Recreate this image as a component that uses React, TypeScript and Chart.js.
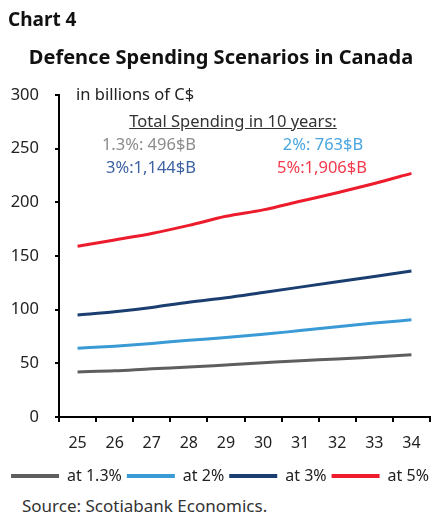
import React, { useEffect, useRef } from "react";
import { Chart, registerables } from "chart.js";

Chart.register(...registerables);

const years = ["25", "26", "27", "28", "29", "30", "31", "32", "33", "34"];
const at13 = [42, 43, 45, 46.5, 48.5, 50.5, 52.5, 54, 56, 58];
const at2 = [64, 66, 68.5, 71.5, 74, 77, 80.5, 84, 87.5, 90.5];
const at3 = [95, 98, 102, 107, 111, 116, 121, 126, 131, 136];
const at5 = [159, 165, 171, 178.5, 187, 193, 201, 209, 217.5, 227];
const seriesNames = ["at 1.3%", "at 2%", "at 3%", "at 5%"];
const lineColors = ["#5e5e5e", "#3a9ad6", "#1b3e70", "#ec1c2d"];
const yTicks = [0, 50, 100, 150, 200, 250, 300];

const FONT = "'Noto Sans', 'Open Sans', sans-serif";

export default function App() {
  const ref = useRef<HTMLCanvasElement | null>(null);

  useEffect(() => {
    if (!ref.current) return;
    const data = [at13, at2, at3, at5];
    const chart = new Chart(ref.current, {
      type: "line",
      data: {
        labels: years,
        datasets: data.map((d, i) => ({
          label: seriesNames[i],
          data: d,
          borderColor: lineColors[i],
          backgroundColor: lineColors[i],
          borderWidth: 3,
          pointRadius: 0,
          tension: 0.4,
          cubicInterpolationMode: "monotone" as const,
        })),
      },
      options: {
        animation: false,
        responsive: false,
        layout: { padding: { top: 95, right: 0, left: 0, bottom: 0 } },
        plugins: {
          tooltip: { enabled: false },
          legend: {
            position: "bottom",
            labels: {
              boxWidth: 48,
              boxHeight: 4,
              padding: 5,
              color: "#222",
              font: { family: FONT, size: 16 },
              generateLabels: (c: any) =>
                Chart.defaults.plugins.legend.labels
                  .generateLabels(c)
                  .map((l: any) => ({ ...l, lineWidth: 0 })),
            },
          },
        },
        scales: {
          x: {
            offset: true,
            grid: {
              offset: true,
              drawOnChartArea: false,
              drawTicks: true,
              tickLength: 5,
              color: "#000",
              lineWidth: 2,
            },
            border: { color: "#000", width: 2 },
            ticks: {
              color: "#222",
              font: { family: FONT, size: 16 },
              padding: 12,
              maxRotation: 0,
            },
            afterFit: (s: any) => {
              s.height = 46;
            },
          },
          y: {
            min: 0,
            max: 300,
            afterBuildTicks: (s: any) => {
              s.ticks = yTicks.map((v) => ({ value: v }));
            },
            grid: {
              drawOnChartArea: false,
              drawTicks: true,
              tickLength: 4,
              color: "#000",
              lineWidth: 2,
            },
            border: { color: "#000", width: 2 },
            ticks: {
              color: "#222",
              font: { family: FONT, size: 16.5 },
              padding: 16,
            },
            afterFit: (s: any) => {
              s.width = 59;
            },
          },
          yRight: {
            position: "right",
            display: true,
            grid: { display: false, drawTicks: false },
            border: { display: false },
            ticks: { display: false },
            afterFit: (s: any) => {
              s.width = 10;
            },
          },
        },
      },
    });
    return () => chart.destroy();
  }, []);

  const abs = (x: number, y: number, extra: React.CSSProperties = {}): React.CSSProperties => ({
    position: "absolute",
    left: x,
    top: y,
    whiteSpace: "nowrap",
    fontFamily: FONT,
    lineHeight: 1,
    ...extra,
  });

  return (
    <div style={{ position: "absolute", left: 0, top: 0, width: 440, height: 515, background: "#fff", overflow: "hidden" }}>
      <canvas ref={ref} width={440} height={494} style={{ position: "absolute", left: 0, top: 0, width: 440, height: 494 }} />
      <div style={abs(8, 10, { fontSize: 19, fontWeight: 700, color: "#111" })}>Chart 4</div>
      <div style={{ ...abs(0, 47, { fontSize: 20, fontWeight: 700, color: "#111" }), width: 442, textAlign: "center" }}>
        Defence Spending Scenarios in Canada
      </div>
      <div style={abs(76, 86, { fontSize: 16.5, color: "#222" })}>in billions of C$</div>
      <div style={{ ...abs(0, 113, { fontSize: 16.5, color: "#333", textDecoration: "underline" }), left: 233, transform: "translateX(-50%)" }}>
        Total Spending in 10 years:
      </div>
      <div style={{ ...abs(0, 136, { fontSize: 16.5, color: "#8c8c8c" }), left: 149, transform: "translateX(-50%)" }}>1.3%: 496$B</div>
      <div style={{ ...abs(0, 136, { fontSize: 16.5, color: "#4aa5e0" }), left: 323, transform: "translateX(-50%)" }}>2%: 763$B</div>
      <div style={{ ...abs(0, 159, { fontSize: 16.5, color: "#3d62a0" }), left: 151, transform: "translateX(-50%)" }}>3%:1,144$B</div>
      <div style={{ ...abs(0, 159, { fontSize: 16.5, color: "#f23a4c" }), left: 322, transform: "translateX(-50%)" }}>5%:1,906$B</div>
      <div style={abs(22, 497, { fontSize: 17, color: "#333" })}>Source: Scotiabank Economics.</div>
    </div>
  );
}
